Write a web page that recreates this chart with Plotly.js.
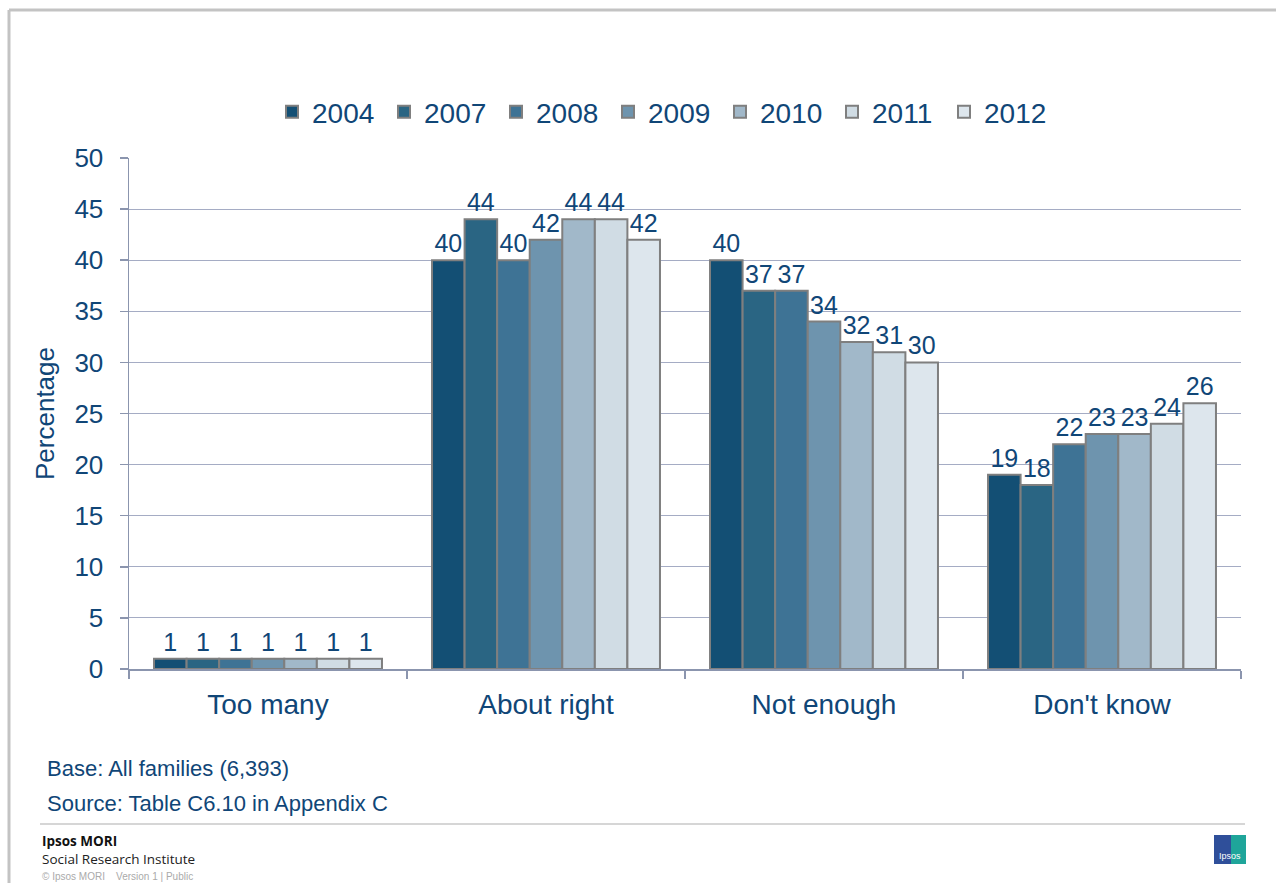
<!DOCTYPE html>
<html><head><meta charset="utf-8">
<script src="https://cdn.plot.ly/plotly-3.0.1.min.js"></script>
<style>html,body{margin:0;padding:0;background:#fff;}#chart{width:1276px;height:883px;}</style>
</head><body><div id="chart"></div>
<script>
const categories = ["Too many", "About right", "Not enough", "Don't know"];
const years = ["2004", "2007", "2008", "2009", "2010", "2011", "2012"];
const v2004 = [1, 40, 40, 19];
const v2007 = [1, 44, 37, 18];
const v2008 = [1, 40, 37, 22];
const v2009 = [1, 42, 34, 23];
const v2010 = [1, 44, 32, 23];
const v2011 = [1, 44, 31, 24];
const v2012 = [1, 42, 30, 26];
const seriesValues = [v2004, v2007, v2008, v2009, v2010, v2011, v2012];
const colors = ["#134f74", "#2a6583", "#3e7395", "#6e94ae", "#a1b8c9", "#d0dce4", "#dde6ed"];
const yTicks = [0, 5, 10, 15, 20, 25, 30, 35, 40, 45, 50];

const textColor = "#104677";
const font = "Liberation Sans, Arial, sans-serif";

const W = 1276, H = 883, L = 129, R = 1241, T = 158, B = 669;
const px = x => (x - L) / (R - L);
const py = y => (B - y) / (B - T);

const traces = years.map((yr, i) => ({
  type: "bar", name: yr, x: categories, y: seriesValues[i],
  marker: {color: colors[i], line: {color: "#7f7f7f", width: 2}},
  text: seriesValues[i].map(String), textposition: "outside",
  textfont: {family: font, size: 25, color: textColor},
  cliponaxis: false
}));

const layout = {
  width: W, height: H,
  margin: {l: L, r: W - R, t: T, b: H - B, pad: 0},
  paper_bgcolor: "#fff", plot_bgcolor: "#fff",
  barmode: "group", bargap: 0.18, bargroupgap: 0,
  font: {family: font, color: textColor},
  showlegend: true,
  legend: {orientation: "h", x: px(664), xanchor: "center", y: py(112), yanchor: "middle",
    font: {family: font, size: 28, color: textColor}, traceorder: "normal",
    itemwidth: 30, entrywidth: 67, entrywidthmode: "pixels"},
  xaxis: {type: "category", showgrid: false, showline: true, linecolor: "#8b95ae", linewidth: 1.5,
    ticks: "outside", tickson: "boundaries", ticklen: 8, tickcolor: "#8b95ae", tickwidth: 1.5,
    ticklabelstandoff: 10,
    tickfont: {family: font, size: 28, color: textColor}, fixedrange: true},
  yaxis: {range: [0, 50], tickvals: yTicks, ticktext: yTicks.map(String),
    showgrid: true, gridcolor: "#a5acc4", gridwidth: 1, zeroline: false,
    showline: true, linecolor: "#8b95ae", linewidth: 1.5,
    ticks: "outside", ticklen: 8, tickcolor: "#8b95ae", tickwidth: 1.5,
    ticklabelstandoff: 11,
    tickfont: {family: font, size: 26, color: textColor},
    title: {text: "Percentage", font: {family: font, size: 26, color: textColor}, standoff: 12}},
  shapes: [
    {type: "line", xref: "paper", yref: "paper", x0: px(9), x1: px(1276), y0: py(10), y1: py(10), line: {color: "#c3c3c3", width: 3}},
    {type: "line", xref: "paper", yref: "paper", x0: px(9), x1: px(9), y0: py(10), y1: py(883), line: {color: "#c3c3c3", width: 3}},
    {type: "line", xref: "paper", yref: "paper", x0: px(40), x1: px(1245), y0: py(824), y1: py(824), line: {color: "#c8c8c8", width: 1.5}},
    {type: "rect", xref: "paper", yref: "paper", x0: px(1214), x1: px(1231), y0: py(835), y1: py(864), fillcolor: "#2f4f9a", line: {width: 0}},
    {type: "rect", xref: "paper", yref: "paper", x0: px(1231), x1: px(1246), y0: py(835), y1: py(864), fillcolor: "#1fa59a", line: {width: 0}}
  ],
  annotations: [
    {text: "Base: All families (6,393)", xref: "paper", yref: "paper", x: px(45), y: py(768), xanchor: "left", yanchor: "middle", showarrow: false, font: {family: font, size: 22, color: textColor}},
    {text: "Source: Table C6.10 in Appendix C", xref: "paper", yref: "paper", x: px(45), y: py(803), xanchor: "left", yanchor: "middle", showarrow: false, font: {family: font, size: 22, color: textColor}},
    {text: "<b>Ipsos MORI</b>", xref: "paper", yref: "paper", x: px(40), y: py(841), xanchor: "left", yanchor: "middle", showarrow: false, font: {family: "Open Sans, sans-serif", size: 13.5, color: "#111"}},
    {text: "Social Research Institute", xref: "paper", yref: "paper", x: px(40), y: py(859), xanchor: "left", yanchor: "middle", showarrow: false, font: {family: "Open Sans, sans-serif", size: 13.5, color: "#222"}},
    {text: "© Ipsos MORI    Version 1 | Public", xref: "paper", yref: "paper", x: px(40), y: py(876), xanchor: "left", yanchor: "middle", showarrow: false, font: {family: font, size: 10, color: "#aaaaaa"}},
    {text: "Ipsos", xref: "paper", yref: "paper", x: px(1230), y: py(856), xanchor: "center", yanchor: "middle", showarrow: false, font: {family: font, size: 9, color: "#ffffff"}}
  ]
};

Plotly.newPlot("chart", traces, layout, {displayModeBar: false, staticPlot: true});
</script></body></html>
